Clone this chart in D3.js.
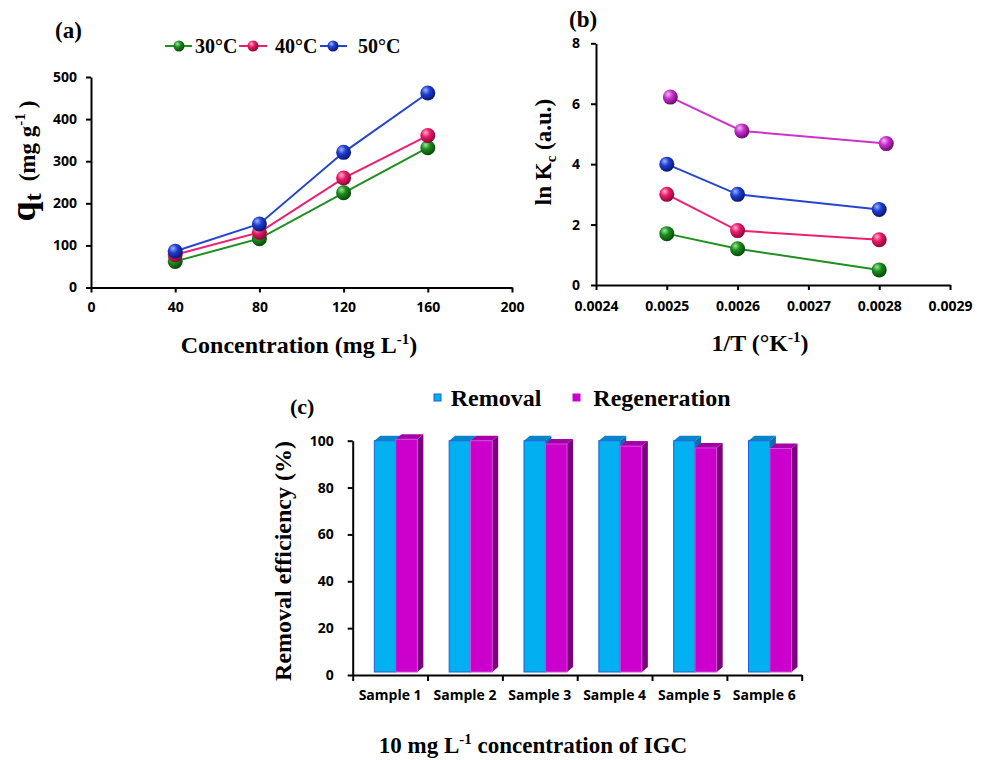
<!DOCTYPE html>
<html><head><meta charset="utf-8">
<script src="https://cdn.jsdelivr.net/npm/d3@7"></script>
<style>
body{margin:0;background:#fff;}
svg{display:block;}
.tick text{font-family:"Open Sans",sans-serif;font-weight:700;font-size:14px;fill:#000;}
.domain,.tick line{stroke:#000;stroke-width:2px;}
.serif{font-family:"Liberation Serif","Times New Roman",serif;font-weight:700;fill:#000;}
</style></head><body>
<svg id="fig" width="984" height="760"></svg>
<script>
// ---- Panel (a): adsorption capacity vs concentration ----
const concentrations = [40, 80, 120, 160];
const tempLabels = ["30°C", "40°C", "50°C"];
const q30 = [62, 116, 225, 332];
const q40 = [78, 131, 260, 361];
const q50 = [86, 151, 321, 462];
const qTicks = [0, 100, 200, 300, 400, 500];
const concTicks = [0, 40, 80, 120, 160, 200];

// ---- Panel (b): van't Hoff plot ----
const invT = [0.0025, 0.0026, 0.0028];
const invTUpper = [0.002505, 0.002606, 0.00281];
const lnKGreen = [1.7, 1.2, 0.5];
const lnKPink = [3.0, 1.8, 1.5];
const lnKBlue = [4.0, 3.0, 2.5];
const lnKMagenta = [6.22, 5.1, 4.68];
const invTTicks = [0.0024, 0.0025, 0.0026, 0.0027, 0.0028, 0.0029];
const lnKTicks = [0, 2, 4, 6, 8];

// ---- Panel (c): removal / regeneration efficiency ----
const samples = ["Sample 1", "Sample 2", "Sample 3", "Sample 4", "Sample 5", "Sample 6"];
const removal = [100, 100, 100, 100, 100, 100];
const regeneration = [100.6, 100, 98.6, 97.7, 96.9, 96.7];
const effTicks = [0, 20, 40, 60, 80, 100];
const barSeries = ["Removal", "Regeneration"];

const svg = d3.select("#fig");
const defs = svg.append("defs");

// shaded sphere markers
const palette = {
  green:   {line: "#1f8f1f", hi: "#9be89b", base: "#1c8c1c", dark: "#0a4a0a"},
  pink:    {line: "#ee1f6f", hi: "#ffb0cc", base: "#ea1a6a", dark: "#8a0838"},
  blue:    {line: "#2446cf", hi: "#9fb2ff", base: "#1e3ed0", dark: "#0a1870"},
  magenta: {line: "#cc33cc", hi: "#f6b8f6", base: "#c830cc", dark: "#6c0c70"}
};
Object.entries(palette).forEach(([k, c]) => {
  const g = defs.append("radialGradient").attr("id", "sph-" + k)
    .attr("cx", "38%").attr("cy", "35%").attr("r", "65%").attr("fx", "35%").attr("fy", "30%");
  g.append("stop").attr("offset", "0%").attr("stop-color", c.hi);
  g.append("stop").attr("offset", "45%").attr("stop-color", c.base);
  g.append("stop").attr("offset", "100%").attr("stop-color", c.dark);
});

function drawSeries(g, xs, ys, x, y, key, r) {
  const c = palette[key];
  const pts = xs.map((v, i) => [x(v), y(ys[i])]);
  g.append("path").attr("d", d3.line()(pts)).attr("fill", "none")
    .attr("stroke", c.line).attr("stroke-width", 2);
  g.selectAll(null).data(pts).enter().append("circle")
    .attr("cx", d => d[0]).attr("cy", d => d[1]).attr("r", r)
    .attr("fill", `url(#sph-${key})`);
}

// ================= Panel (a) =================
{
  const x = d3.scaleLinear().domain([0, 200]).range([91, 512]);
  const y = d3.scaleLinear().domain([0, 500]).range([287.5, 77]);
  const g = svg.append("g");
  g.append("g").attr("transform", "translate(0,287.5)")
    .call(d3.axisBottom(x).tickValues(concTicks).tickSize(5).tickSizeOuter(0).tickPadding(10));
  g.append("g").attr("transform", "translate(91,0)")
    .call(d3.axisLeft(y).tickValues(qTicks).tickSize(5).tickSizeOuter(0).tickPadding(9));

  const keys = ["green", "pink", "blue"];
  [q30, q40, q50].forEach((s, i) => drawSeries(g, concentrations, s, x, y, keys[i], 7.5));

  // legend
  const legX = [[165, 192, 179, 195], [239, 267, 253, 275], [320, 347, 333, 358]];
  keys.forEach((k, i) => {
    const [x0, x1, cx, tx] = legX[i];
    g.append("line").attr("x1", x0).attr("x2", x1).attr("y1", 46).attr("y2", 46)
      .attr("stroke", palette[k].line).attr("stroke-width", 2);
    g.append("circle").attr("cx", cx).attr("cy", 46).attr("r", 5.5).attr("fill", `url(#sph-${k})`);
    g.append("text").attr("class", "serif").attr("x", tx).attr("y", 53)
      .style("font-size", "20px").text(tempLabels[i]);
  });

  g.append("text").attr("class", "serif").attr("x", 55).attr("y", 38)
    .style("font-size", "23px").text("(a)");

  const xt = g.append("text").attr("class", "serif").attr("x", 299).attr("y", 353)
    .attr("text-anchor", "middle").style("font-size", "24px");
  xt.append("tspan").text("Concentration (mg L");
  xt.append("tspan").attr("dy", -9).style("font-size", "15px").text("-1");
  xt.append("tspan").attr("dy", 9).text(")");

  const yt = g.append("text").attr("class", "serif")
    .attr("transform", "translate(35,161) rotate(-90)").attr("text-anchor", "middle");
  yt.append("tspan").style("font-size", "36px").text("q");
  yt.append("tspan").attr("dy", 6).style("font-size", "24px").text("t");
  yt.append("tspan").attr("dy", -6).attr("dx", 12).style("font-size", "23px").text("(mg g");
  yt.append("tspan").attr("dy", -10).style("font-size", "15px").text("-1");
  yt.append("tspan").attr("dy", 10).attr("dx", 5).style("font-size", "23px").text(")");
}

// ================= Panel (b) =================
{
  const x = d3.scaleLinear().domain([0.0024, 0.0029]).range([596, 950]);
  const y = d3.scaleLinear().domain([0, 8]).range([285, 43.3]);
  const g = svg.append("g");
  g.append("g").attr("transform", "translate(0,285)")
    .call(d3.axisBottom(x).tickValues(invTTicks).tickFormat(d3.format(".4f"))
      .tickSize(5).tickSizeOuter(0).tickPadding(11));
  g.append("g").attr("transform", "translate(596,0)")
    .call(d3.axisLeft(y).tickValues(lnKTicks).tickSize(5).tickSizeOuter(0).tickPadding(11));

  drawSeries(g, invTUpper, lnKMagenta, x, y, "magenta", 7.5);
  drawSeries(g, invT, lnKBlue, x, y, "blue", 7.5);
  drawSeries(g, invT, lnKPink, x, y, "pink", 7.5);
  drawSeries(g, invT, lnKGreen, x, y, "green", 7.5);

  g.append("text").attr("class", "serif").attr("x", 569).attr("y", 27)
    .style("font-size", "23px").text("(b)");

  const xt = g.append("text").attr("class", "serif").attr("x", 760).attr("y", 351)
    .attr("text-anchor", "middle").style("font-size", "24px");
  xt.append("tspan").text("1/T (°K");
  xt.append("tspan").attr("dy", -9).style("font-size", "15px").text("-1");
  xt.append("tspan").attr("dy", 9).text(")");

  const yt = g.append("text").attr("class", "serif")
    .attr("transform", "translate(551,152) rotate(-90)").attr("text-anchor", "middle")
    .style("font-size", "23px");
  yt.append("tspan").text("ln K");
  yt.append("tspan").attr("dy", 5).style("font-size", "15px").text("c");
  yt.append("tspan").attr("dy", -5).text(" (a.u.)");
}

// ================= Panel (c) =================
{
  const x0 = 352.7, x1 = 801.7;
  const xb = d3.scaleBand().domain(samples).range([x0, x1]);
  const xEdge = d3.scaleLinear().domain([0, samples.length]).range([x0, x1]);
  const y = d3.scaleLinear().domain([0, 100]).range([675, 440.7]);
  const g = svg.append("g");

  g.append("g").attr("transform", "translate(0,675)")
    .call(d3.axisBottom(xEdge).tickValues(d3.range(samples.length + 1)).tickFormat("")
      .tickSize(6).tickSizeOuter(0));
  g.append("g").attr("transform", "translate(0,675)")
    .call(d3.axisBottom(xb).tickSize(0).tickPadding(15))
    .call(a => a.select(".domain").remove());
  g.append("g").attr("transform", `translate(${x0},0)`)
    .call(d3.axisLeft(y).tickValues(effTicks).tickSize(5).tickSizeOuter(0).tickPadding(14));

  const bw = xb.bandwidth();
  const dx = 6, dy = 5;
  const base = y(0) - 3;
  const styles = [
    {front: "#00b0f0", top: "#0a84c8", side: "#0b6cb0", stroke: "#2160d8"},
    {front: "#cc00cc", top: "#a400a8", side: "#7c007e", stroke: "#d24ed6"}
  ];
  const poly = pts => "M" + pts.map(p => p.join(",")).join("L") + "Z";

  samples.forEach((s, i) => {
    const vals = [removal[i], regeneration[i]];
    const widths = [bw * 0.286, bw * 0.289];
    let bx = xb(s) + bw * 0.289;
    vals.forEach((v, j) => {
      const st = styles[j], w = widths[j], yt = y(v);
      g.append("path").attr("d", poly([[bx + w, yt], [bx + w + dx, yt - dy], [bx + w + dx, base - dy], [bx + w, base]]))
        .attr("fill", st.side);
      g.append("path").attr("d", poly([[bx, yt], [bx + dx, yt - dy], [bx + w + dx, yt - dy], [bx + w, yt]]))
        .attr("fill", st.top);
      g.append("rect").attr("x", bx).attr("y", yt).attr("width", w).attr("height", base - yt)
        .attr("fill", st.front).attr("stroke", st.stroke).attr("stroke-width", 1);
      bx += w;
    });
  });

  // legend
  const leg = [[434, 450.7], [573, 593.3]];
  barSeries.forEach((name, i) => {
    g.append("rect").attr("x", leg[i][0]).attr("y", 394).attr("width", 7).attr("height", 7)
      .attr("fill", styles[i].front).attr("stroke", i === 0 ? styles[0].stroke : styles[1].front);
    g.append("text").attr("class", "serif").attr("x", leg[i][1]).attr("y", 406)
      .style("font-size", "24px").text(name);
  });

  g.append("text").attr("class", "serif").attr("x", 290).attr("y", 414)
    .style("font-size", "22px").text("(c)");

  const xt = g.append("text").attr("class", "serif").attr("x", 533).attr("y", 753)
    .attr("text-anchor", "middle").style("font-size", "23px");
  xt.append("tspan").text("10 mg L");
  xt.append("tspan").attr("dy", -9).style("font-size", "15px").text("-1");
  xt.append("tspan").attr("dy", 9).text(" concentration of IGC");

  g.append("text").attr("class", "serif")
    .attr("transform", "translate(291,561) rotate(-90)").attr("text-anchor", "middle")
    .style("font-size", "24px").text("Removal efficiency (%)");
}
</script>
</body></html>
